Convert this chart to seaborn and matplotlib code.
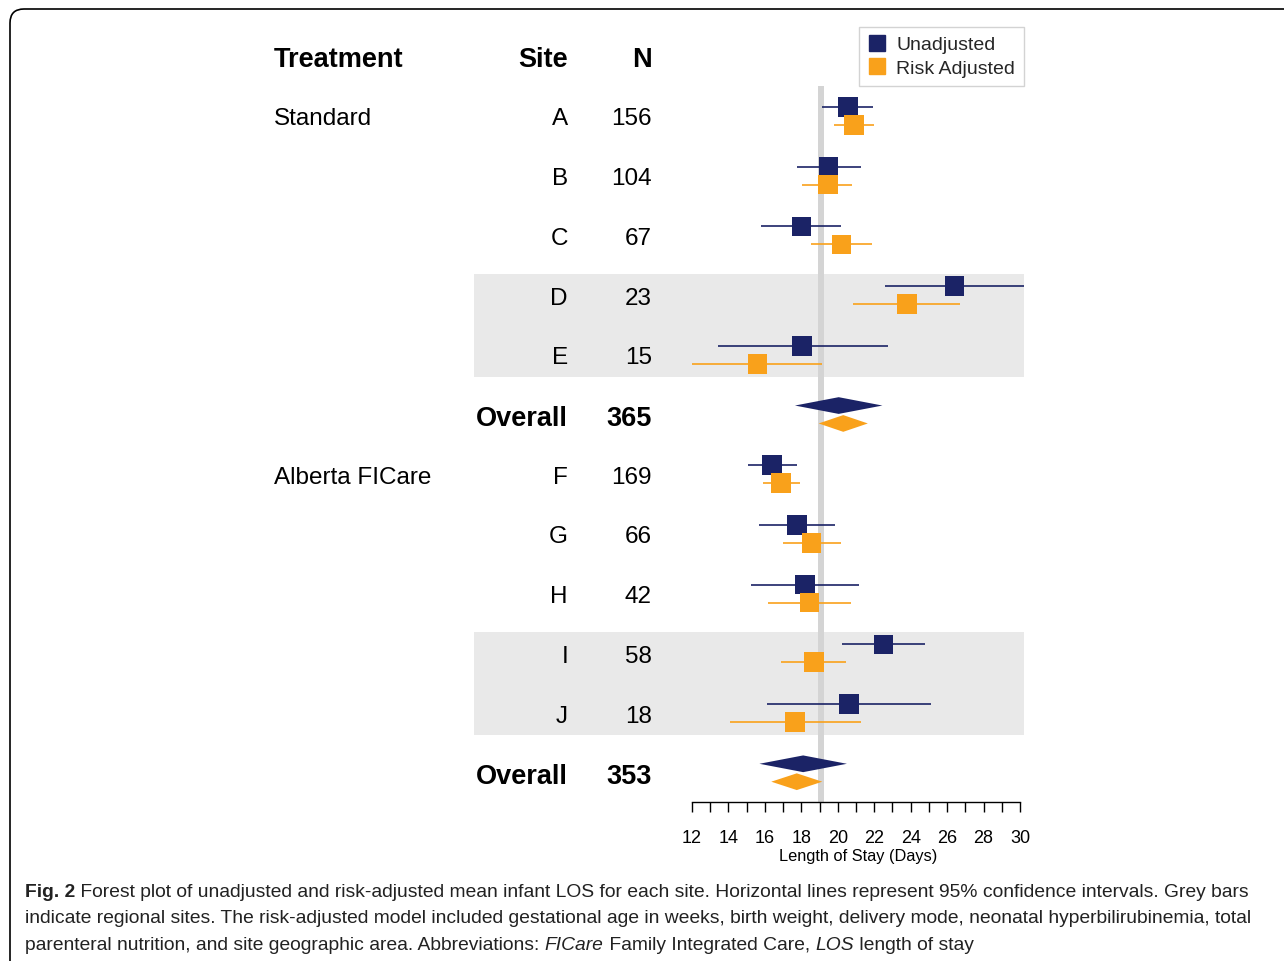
import numpy as np
import pandas as pd
import matplotlib
matplotlib.use("Agg")
import matplotlib.pyplot as plt
import matplotlib.transforms as mtransforms
from matplotlib.patches import FancyBboxPatch
from matplotlib.lines import Line2D
from matplotlib.ticker import FixedLocator
import seaborn as sns

# ------------------------------------------------------------------
# data (days)
# ------------------------------------------------------------------
groups = ["Standard", "Alberta FICare"]
sites = ["A", "B", "C", "D", "E", "F", "G", "H", "I", "J"]
site_n = [156, 104, 67, 23, 15, 169, 66, 42, 58, 18]

unadj_mean = [20.55, 19.5, 18.0, 26.4, 18.05, 16.4, 17.75, 18.2, 22.5, 20.6]
unadj_lo = [19.15, 17.75, 15.8, 22.6, 13.4, 15.05, 15.7, 15.25, 20.25, 16.1]
unadj_hi = [21.95, 21.25, 20.2, 30.3, 22.75, 17.75, 19.85, 21.15, 24.8, 25.1]

adj_mean = [20.9, 19.45, 20.2, 23.8, 15.6, 16.9, 18.55, 18.45, 18.7, 17.65]
adj_lo = [19.8, 18.05, 18.55, 20.85, 12.0, 15.9, 17.0, 16.15, 16.9, 14.1]
adj_hi = [22.0, 20.8, 21.9, 26.7, 19.15, 17.95, 20.2, 20.7, 20.45, 21.25]

overall_n = [365, 353]
overall_unadj = [(17.65, 20.05, 22.45), (15.7, 18.1, 20.5)]
overall_adj = [(18.95, 20.3, 21.65), (16.35, 17.75, 19.15)]

ref_line = 19.1

NAVY = "#1b2366"
ORANGE = "#f9a11b"
W, H = 1284, 962

# rows: 5 sites, overall, 5 sites, overall
site_rows = [0, 1, 2, 3, 4, 6, 7, 8, 9, 10]
overall_rows = [5, 11]
OFF = 0.15

sns.set_theme(style="white")
plt.rcParams["font.family"] = ["Liberation Sans", "DejaVu Sans"]
CAPTION_FONT = ["Liberation Sans", "DejaVu Sans"]

fig = plt.figure(figsize=(W / 100, H / 100), dpi=100)
ax = fig.add_axes([474 / W, 1 - 803 / H, 550 / W, 775 / H])

# long table for seaborn
recs = []
for i in range(len(sites)):
    recs.append(dict(y=site_rows[i] - OFF, mean=unadj_mean[i], lo=unadj_lo[i], hi=unadj_hi[i], series="Unadjusted"))
    recs.append(dict(y=site_rows[i] + OFF, mean=adj_mean[i], lo=adj_lo[i], hi=adj_hi[i], series="Risk Adjusted"))
df = pd.DataFrame(recs)
palette = {"Unadjusted": NAVY, "Risk Adjusted": ORANGE}

# grey bands for regional sites
for a, b in [(3, 4), (9, 10)]:
    ax.axhspan(a - 0.36, b + 0.37, color="#e9e9e9", lw=0, zorder=0)

ax.vlines(ref_line, -0.5, 11.49, color="#d4d4d4", lw=4.3, zorder=1)

for s, g in df.groupby("series"):
    ax.hlines(g["y"], g["lo"], g["hi"], colors=palette[s], lw=1.2, zorder=2)

sns.scatterplot(data=df, x="mean", y="y", hue="series", palette=palette, marker="s",
                s=200, linewidth=0, legend=False, ax=ax, zorder=3)

# overall diamonds
dh = 0.14
for k, r in enumerate(overall_rows):
    for (lo, mid, hi), off, col in [(overall_unadj[k], -OFF, NAVY), (overall_adj[k], OFF, ORANGE)]:
        yc = r + off
        ax.fill([lo, mid, hi, mid], [yc, yc - dh, yc, yc + dh], color=col, lw=0, zorder=3)

ax.set_xlim(0.036, 30.22)
ax.set_ylim(11.49, -1.49)
ax.set_facecolor("none")
for sp in ["left", "top", "right"]:
    ax.spines[sp].set_visible(False)
ax.spines["bottom"].set_bounds(12, 30)
ax.spines["bottom"].set_color("black")
ax.spines["bottom"].set_linewidth(1)
ax.set_xticks(range(12, 31, 2))
ax.xaxis.set_minor_locator(FixedLocator(range(13, 30, 2)))
ax.tick_params(axis="x", which="both", bottom=True, direction="out", length=7.2,
               width=1, color="black", pad=12, labelsize=13, labelcolor="black")
ax.set_yticks([])
ax.set_ylabel("")
ax.set_xlabel("Length of Stay (Days)", fontsize=11.8, labelpad=0, color="black")
ax.xaxis.set_label_coords((858 - 474) / 550, -(857 - 803) / 775, transform=ax.transAxes)
ax.xaxis.label.set_va("center")

handles = [Line2D([], [], marker="s", ls="", color=NAVY, markersize=11, label="Unadjusted"),
           Line2D([], [], marker="s", ls="", color=ORANGE, markersize=11, label="Risk Adjusted")]
leg = ax.legend(handles=handles, loc="upper right", bbox_to_anchor=(1, 1), borderaxespad=0,
                frameon=True, fancybox=False, edgecolor="#c8c8c8", fontsize=14,
                handletextpad=0.55, labelspacing=0.3, borderpad=0.45, handlelength=0.9)
leg.get_frame().set_linewidth(1)

# text columns
tr = mtransforms.blended_transform_factory(fig.transFigure, ax.transData)
x_treat, x_site, x_n = 274 / W, 568 / W, 652 / W
kw = dict(transform=tr, va="center_baseline", color="black", clip_on=False)
hdr = -1
ax.text(x_treat, hdr, "Treatment", ha="left", fontsize=19.5, fontweight="bold", **kw)
ax.text(x_site, hdr, "Site", ha="right", fontsize=19.5, fontweight="bold", **kw)
ax.text(x_n, hdr, "N", ha="right", fontsize=19.5, fontweight="bold", **kw)
ax.text(x_treat, site_rows[0], groups[0], ha="left", fontsize=17.5, **kw)
ax.text(x_treat, site_rows[5], groups[1], ha="left", fontsize=17.5, **kw)
for i in range(len(sites)):
    ax.text(x_site, site_rows[i], sites[i], ha="right", fontsize=17.5, **kw)
    ax.text(x_n, site_rows[i], str(site_n[i]), ha="right", fontsize=17.5, **kw)
for k, r in enumerate(overall_rows):
    ax.text(x_site, r, "Overall", ha="right", fontsize=19.5, fontweight="bold", **kw)
    ax.text(x_n, r, str(overall_n[k]), ha="right", fontsize=19.5, fontweight="bold", **kw)

# rounded frame around the figure
frame = FancyBboxPatch((10, -100), 1500, H - 10 + 100, boxstyle="round,pad=0,rounding_size=14",
                       transform=None, fill=False, ec="black", lw=1.2)
fig.add_artist(frame)

# caption with mixed styles
renderer = fig.canvas.get_renderer()


def seg_width(txt, size, weight, style):
    def w(s):
        t = fig.text(0, 0, s, fontsize=size, fontweight=weight, fontstyle=style, family=CAPTION_FONT)
        bb = t.get_window_extent(renderer)
        t.remove()
        return bb.width
    return w("X" + txt + "X") - w("XX")


def draw_line(segments, x_px, base_px, size=13.85):
    x = x_px
    for txt, weight, style in segments:
        fig.text(x / W, 1 - base_px / H, txt, fontsize=size, fontweight=weight, fontstyle=style,
                 family=CAPTION_FONT, va="baseline", ha="left", color="#222222")
        x += seg_width(txt, size, weight, style)


caption = [
    [("Fig. 2", "bold", "normal"),
     (" Forest plot of unadjusted and risk-adjusted mean infant LOS for each site. Horizontal lines represent 95% confidence intervals. Grey bars", "normal", "normal")],
    [("indicate regional sites. The risk-adjusted model included gestational age in weeks, birth weight, delivery mode, neonatal hyperbilirubinemia, total", "normal", "normal")],
    [("parenteral nutrition, and site geographic area. Abbreviations: ", "normal", "normal"),
     ("FICare", "normal", "italic"),
     (" Family Integrated Care, ", "normal", "normal"),
     ("LOS", "normal", "italic"),
     (" length of stay", "normal", "normal")],
]
for j, line in enumerate(caption):
    draw_line(line, 25, 897 + 26.5 * j)

fig.savefig("out.png", dpi=100)
